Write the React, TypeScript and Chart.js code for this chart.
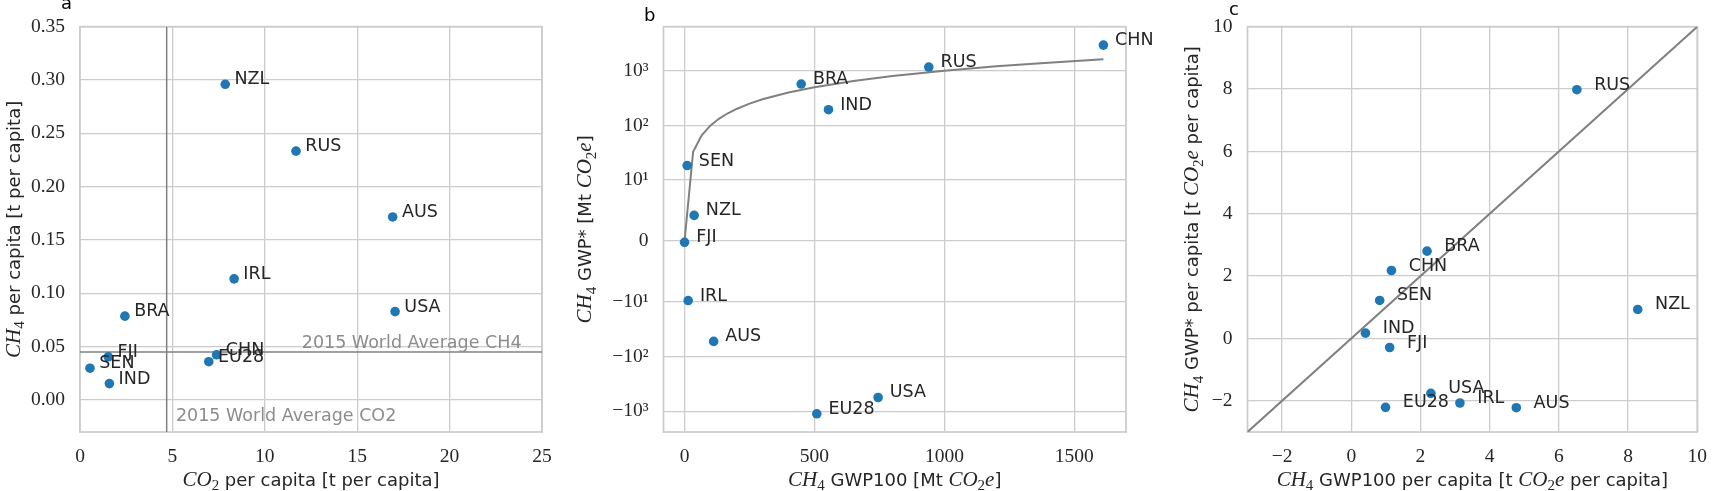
import React, { useEffect, useRef } from 'react';
import { Chart, registerables, LinearScale } from 'chart.js';

Chart.register(...registerables);

// ---------------- data ----------------
// Panel a
const countriesA = ['NZL', 'RUS', 'AUS', 'IRL', 'USA', 'BRA', 'FJI', 'SEN', 'IND', 'CHN', 'EU28'];
const co2PerCapita = [7.86, 11.69, 16.92, 8.34, 17.05, 2.43, 1.53, 0.54, 1.59, 7.39, 6.97];
const ch4PerCapita = [0.296, 0.2333, 0.1716, 0.1136, 0.0829, 0.0786, 0.0405, 0.0298, 0.0154, 0.0424, 0.0359];
const worldAvgCO2 = 4.69;
const worldAvgCH4 = 0.0451;
const xTicksA = [0, 5, 10, 15, 20, 25];
const yTicksA = [0, 0.05, 0.1, 0.15, 0.2, 0.25, 0.3, 0.35];

// Panel b
const countriesB = ['FJI', 'NZL', 'SEN', 'IRL', 'AUS', 'BRA', 'IND', 'RUS', 'USA', 'EU28', 'CHN'];
const gwp100Mt = [0, 37, 10, 14, 112, 449, 554, 940, 745, 509, 1612];
const gwpStarMt = [-0.22, 4.2, 18.5, -9.8, -53, 570, 194, 1167, -562, -1115, 2940];
const refLineB = [0, 33, 66, 99, 132, 165, 200, 250, 300, 400, 500, 650, 800, 1000, 1200, 1400, 1612];
const xTicksB = [0, 500, 1000, 1500];
const yTicksB = [-1000, -100, -10, 0, 10, 100, 1000];
const yTickLabelsB = ['\u221210\u00b3', '\u221210\u00b2', '\u221210\u00b9', '0', '10\u00b9', '10\u00b2', '10\u00b3'];

// Panel c
const countriesC = ['RUS', 'NZL', 'BRA', 'CHN', 'SEN', 'IND', 'FJI', 'USA', 'IRL', 'EU28', 'AUS'];
const gwp100PerCapita = [6.52, 8.28, 2.19, 1.16, 0.82, 0.41, 1.11, 2.3, 3.14, 0.99, 4.77];
const gwpStarPerCapita = [7.98, 0.93, 2.8, 2.18, 1.22, 0.17, -0.29, -1.76, -2.07, -2.21, -2.22];
const refLineC = [-3, 10];
const ticksC = [-2, 0, 2, 4, 6, 8, 10];

// ---------------- styling / layout ----------------
const W = 1720;
const H = 491;
const TOP = 20;
const BOTTOM = 432;
const BLUE = '#1f77b4';
const GREY = '#808080';
const TEXT = '#262626';
const GRID = '#cccccc';

// symlog (linthresh 10, base 10, linscale 1) like matplotlib
const LINTHRESH = 10;
const LINSCALE = 1 / (1 - 1 / 10);
const symT = (v: number) => {
  const a = Math.abs(v);
  return a <= LINTHRESH ? (v / LINTHRESH) * LINSCALE : Math.sign(v) * (LINSCALE + Math.log10(a / LINTHRESH));
};
const symInv = (t: number) => {
  const a = Math.abs(t);
  return a <= LINSCALE ? (t / LINSCALE) * LINTHRESH : Math.sign(t) * LINTHRESH * Math.pow(10, a - LINSCALE);
};

class SymlogScale extends LinearScale {
  static id = 'symlog';
  getPixelForValue(value: number) {
    const t0 = symT(this.min);
    const t1 = symT(this.max);
    return this.getPixelForDecimal((symT(value) - t0) / (t1 - t0));
  }
  getValueForPixel(pixel: number) {
    const t0 = symT(this.min);
    const t1 = symT(this.max);
    return symInv(t0 + this.getDecimalForPixel(pixel) * (t1 - t0));
  }
}
Chart.register(SymlogScale as any);

type Seg = [string, 'm' | 's' | 'b'];
const FONT_MATH = 'italic 21px "Liberation Serif"';
const FONT_SUB = '15px "Liberation Serif"';
const FONT_SANS = '18px "DejaVu Sans"';
const FONT_LABEL = '17.5px "DejaVu Sans"';

function drawRich(ctx: CanvasRenderingContext2D, segs: Seg[], x: number, y: number, vertical: boolean) {
  ctx.save();
  ctx.translate(x, y);
  if (vertical) ctx.rotate(-Math.PI / 2);
  ctx.fillStyle = TEXT;
  ctx.textBaseline = 'alphabetic';
  ctx.textAlign = 'left';
  const font = (k: string) => (k === 'm' ? FONT_MATH : k === 'b' ? FONT_SUB : FONT_SANS);
  let total = 0;
  const ws = segs.map(([t, k]) => {
    ctx.font = font(k);
    const w = ctx.measureText(t).width;
    total += w;
    return w;
  });
  let cx = -total / 2;
  segs.forEach(([t, k], i) => {
    ctx.font = font(k);
    ctx.fillText(t, cx, k === 'b' ? 4.5 : 0);
    cx += ws[i];
  });
  ctx.restore();
}

function drawText(ctx: CanvasRenderingContext2D, t: string, x: number, y: number, font: string, color: string) {
  ctx.save();
  ctx.font = font;
  ctx.fillStyle = color;
  ctx.textAlign = 'left';
  ctx.textBaseline = 'alphabetic';
  ctx.fillText(t, x, y);
  ctx.restore();
}

interface PanelSpec {
  L: number;
  R: number;
  xTitle: Seg[];
  yTitle: Seg[];
  yTitleX: number;
  letter: string;
  letterX: number;
  letterY: number;
  names: string[];
  xs: number[];
  ys: number[];
  dx: number;
  extra?: (chart: any) => void;
}

function decor(spec: PanelSpec) {
  return {
    id: 'decor',
    beforeDatasetsDraw(chart: any) {
      const { ctx, chartArea } = chart;
      ctx.save();
      ctx.strokeStyle = GRID;
      ctx.lineWidth = 1.75;
      ctx.strokeRect(chartArea.left, chartArea.top, chartArea.right - chartArea.left, chartArea.bottom - chartArea.top);
      ctx.restore();
    },
    afterDatasetsDraw(chart: any) {
      const { ctx, chartArea } = chart;
      const xs = chart.scales.x;
      const ys = chart.scales.y;
      spec.names.forEach((n, i) => {
        drawText(ctx, n, xs.getPixelForValue(spec.xs[i] + spec.dx), ys.getPixelForValue(spec.ys[i]), FONT_LABEL, TEXT);
      });
      if (spec.extra) spec.extra(chart);
      const cx = (chartArea.left + chartArea.right) / 2;
      const cy = (chartArea.top + chartArea.bottom) / 2;
      drawRich(ctx, spec.xTitle, cx, 485.5, false);
      drawRich(ctx, spec.yTitle, spec.yTitleX, cy, true);
      drawText(ctx, spec.letter, spec.letterX, spec.letterY, '18px "DejaVu Sans"', '#000000');
    },
  };
}

function axis(type: string, min: number, max: number, ticks: number[], fmt: (v: number) => string, isY: boolean) {
  return {
    type,
    min,
    max,
    bounds: 'data',
    grid: { color: GRID, lineWidth: 1.3, drawTicks: false },
    border: { display: false },
    ticks: {
      autoSkip: false,
      maxRotation: 0,
      font: { family: 'Liberation Serif', size: 19.5 },
      color: TEXT,
      padding: isY ? 15 : 13,
      callback: (v: any) => fmt(Number(v)),
    },
    afterBuildTicks: (s: any) => {
      s.ticks = ticks.map((v) => ({ value: v }));
    },
    afterFit: (s: any) => {
      if (isY) s.width = 80;
      else s.height = H - BOTTOM;
    },
  };
}

function baseOptions(spec: PanelSpec, xAxis: any, yAxis: any) {
  return {
    responsive: false,
    animation: false,
    events: [],
    layout: { padding: { left: spec.L - 80, right: W - spec.R, top: TOP, bottom: 0 } },
    plugins: { legend: { display: false }, tooltip: { enabled: false } },
    scales: { x: xAxis, y: yAxis },
  };
}

const minusFmt = (v: number) => (v < 0 ? '\u2212' + Math.abs(v) : String(v));

function configA() {
  const spec: PanelSpec = {
    L: 80,
    R: 542,
    xTitle: [['CO', 'm'], ['2', 'b'], [' per capita [t per capita]', 's']],
    yTitle: [['CH', 'm'], ['4', 'b'], [' per capita [t per capita]', 's']],
    yTitleX: 19.5,
    letter: 'a',
    letterX: 61,
    letterY: 9,
    names: countriesA,
    xs: co2PerCapita,
    ys: ch4PerCapita,
    dx: 0.5,
    extra: (chart: any) => {
      const { ctx } = chart;
      const xs = chart.scales.x;
      const ys = chart.scales.y;
      drawText(ctx, '2015 World Average CO2', xs.getPixelForValue(worldAvgCO2 + 0.5), ys.getPixelForValue(-0.02), '17.5px "DejaVu Sans"', '#8c8c8c');
      drawText(ctx, '2015 World Average CH4', xs.getPixelForValue(12), ys.getPixelForValue(worldAvgCH4 + 0.004), '17.5px "DejaVu Sans"', '#8c8c8c');
    },
  };
  return {
    type: 'scatter',
    data: {
      datasets: [
        { data: countriesA.map((_, i) => ({ x: co2PerCapita[i], y: ch4PerCapita[i] })), backgroundColor: BLUE, borderWidth: 0, pointRadius: 4.8 },
        { data: [{ x: worldAvgCO2, y: -0.03 }, { x: worldAvgCO2, y: 0.35 }], showLine: true, borderColor: GREY, borderWidth: 1.5, pointRadius: 0 },
        { data: [{ x: 0, y: worldAvgCH4 }, { x: 25, y: worldAvgCH4 }], showLine: true, borderColor: GREY, borderWidth: 1.5, pointRadius: 0 },
      ],
    },
    options: baseOptions(
      spec,
      axis('linear', 0, 25, xTicksA, (v) => String(v), false),
      axis('linear', -0.03, 0.35, yTicksA, (v) => v.toFixed(2), true)
    ),
    plugins: [decor(spec)],
  };
}

function configB() {
  const spec: PanelSpec = {
    L: 663.5,
    R: 1126,
    xTitle: [['CH', 'm'], ['4', 'b'], [' GWP100 [Mt ', 's'], ['CO', 'm'], ['2', 'b'], ['e', 'm'], [']', 's']],
    yTitle: [['CH', 'm'], ['4', 'b'], [' GWP* [Mt ', 's'], ['CO', 'm'], ['2', 'b'], ['e', 'm'], [']', 's']],
    yTitleX: 591,
    letter: 'b',
    letterX: 644,
    letterY: 21,
    names: countriesB,
    xs: gwp100Mt,
    ys: gwpStarMt,
    dx: 45,
  };
  return {
    type: 'scatter',
    data: {
      datasets: [
        { data: countriesB.map((_, i) => ({ x: gwp100Mt[i], y: gwpStarMt[i] })), backgroundColor: BLUE, borderWidth: 0, pointRadius: 4.8 },
        { data: refLineB.map((v) => ({ x: v, y: v })), showLine: true, borderColor: GREY, borderWidth: 2, pointRadius: 0 },
      ],
    },
    options: baseOptions(
      spec,
      axis('linear', -81, 1699, xTicksB, (v) => String(v), false),
      axis('symlog', -2400, 6370, yTicksB, (v) => yTickLabelsB[yTicksB.indexOf(v)] ?? '', true)
    ),
    plugins: [decor(spec)],
  };
}

function configC() {
  const spec: PanelSpec = {
    L: 1247.5,
    R: 1710.7,
    xTitle: [['CH', 'm'], ['4', 'b'], [' GWP100 per capita [t ', 's'], ['CO', 'm'], ['2', 'b'], ['e', 'm'], [' per capita]', 's']],
    yTitle: [['CH', 'm'], ['4', 'b'], [' GWP* per capita [t ', 's'], ['CO', 'm'], ['2', 'b'], ['e', 'm'], [' per capita]', 's']],
    yTitleX: 1198,
    letter: 'c',
    letterX: 1229,
    letterY: 15,
    names: countriesC,
    xs: gwp100PerCapita,
    ys: gwpStarPerCapita,
    dx: 0.5,
  };
  return {
    type: 'scatter',
    data: {
      datasets: [
        { data: countriesC.map((_, i) => ({ x: gwp100PerCapita[i], y: gwpStarPerCapita[i] })), backgroundColor: BLUE, borderWidth: 0, pointRadius: 4.8 },
        { data: refLineC.map((v) => ({ x: v, y: v })), showLine: true, borderColor: GREY, borderWidth: 2, pointRadius: 0 },
      ],
    },
    options: baseOptions(
      spec,
      axis('linear', -3, 10, ticksC, minusFmt, false),
      axis('linear', -3, 10, ticksC, minusFmt, true)
    ),
    plugins: [decor(spec)],
  };
}

function Panel({ make }: { make: () => any }) {
  const ref = useRef<HTMLCanvasElement>(null);
  useEffect(() => {
    const chart = new Chart(ref.current as HTMLCanvasElement, make());
    return () => chart.destroy();
  }, []);
  return (
    <canvas
      ref={ref}
      width={W}
      height={H}
      style={{ position: 'absolute', left: 0, top: 0, width: W, height: H }}
    />
  );
}

export default function App() {
  return (
    <div style={{ position: 'absolute', left: 0, top: 0, width: W, height: H, overflow: 'hidden', background: '#ffffff' }}>
      <Panel make={configA} />
      <Panel make={configB} />
      <Panel make={configC} />
    </div>
  );
}
